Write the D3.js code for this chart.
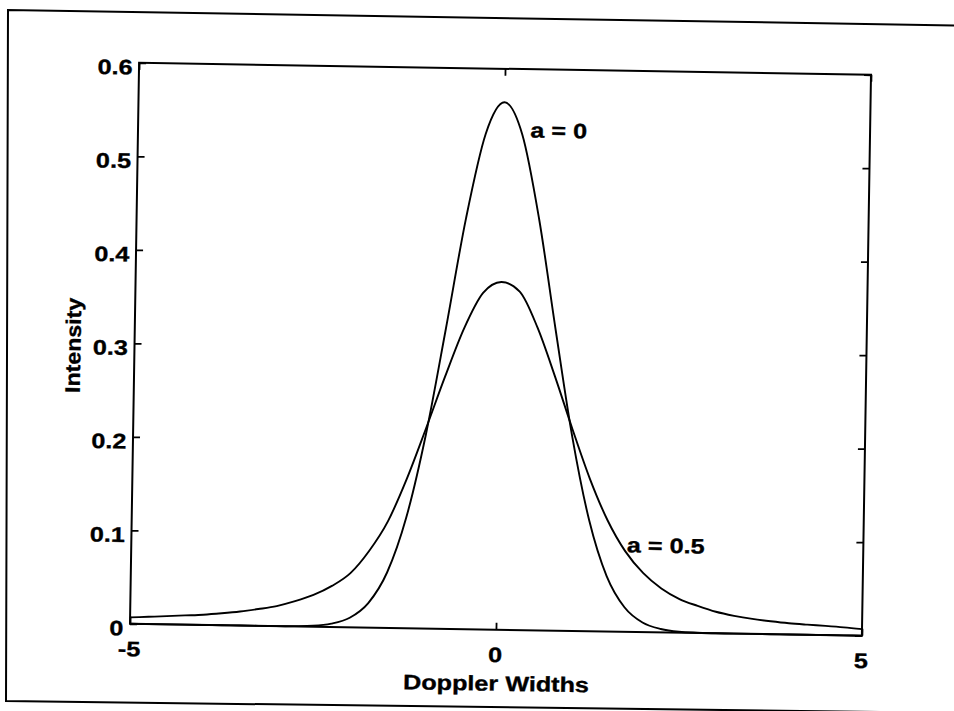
<!DOCTYPE html>
<html>
<head>
<meta charset="utf-8">
<script src="https://cdn.jsdelivr.net/npm/d3@7"></script>
<style>
  html, body { margin: 0; padding: 0; background: #fff; }
  svg { display: block; }
  text { font-family: "Liberation Sans", Arial, sans-serif; font-weight: bold; fill: #000; stroke: #000; stroke-width: 0.35px; }
</style>
</head>
<body>
<svg id="chart" width="954" height="711"></svg>
<script>
// ---- data ----
const dopplerWidths = [-5, -4.75, -4.5, -4.25, -4, -3.75, -3.5, -3.25, -3, -2.75, -2.5, -2.25, -2, -1.75, -1.5, -1.25, -1, -0.75, -0.5, -0.25, 0,
  0.25, 0.5, 0.75, 1, 1.25, 1.5, 1.75, 2, 2.25, 2.5, 2.75, 3, 3.25, 3.5, 3.75, 4, 4.25, 4.5, 4.75, 5];
const intensityA0 = [0, 0, 0, 0, 0, 0, 0, 0, 0, 0.0003, 0.001, 0.0036, 0.0103, 0.0263, 0.0593, 0.1184, 0.2076, 0.3213, 0.4394, 0.5300, 0.5642,
  0.5300, 0.4394, 0.3213, 0.2076, 0.1184, 0.0593, 0.0263, 0.0103, 0.0036, 0.001, 0.0003, 0, 0, 0, 0, 0, 0, 0, 0, 0];
const intensityA05 = [0.0068, 0.0078, 0.0088, 0.0099, 0.011, 0.0128, 0.015, 0.018, 0.0215, 0.027, 0.034, 0.044, 0.058, 0.082, 0.114, 0.160, 0.214, 0.270, 0.322, 0.360, 0.372,
  0.362, 0.324, 0.272, 0.216, 0.163, 0.119, 0.086, 0.063, 0.047, 0.036, 0.029, 0.023, 0.019, 0.016, 0.0138, 0.012, 0.0108, 0.0098, 0.0086, 0.007];
const xTicks = [-5, 0, 5];
const xTickLabels = ["-5", "0", "5"];
const yTicks = [0, 0.1, 0.2, 0.3, 0.4, 0.5, 0.6];
const yTickLabels = ["0", "0.1", "0.2", "0.3", "0.4", "0.5", "0.6"];
const seriesLabels = [
  { text: "a = 0", x: 0.36, y: 0.527 },
  { text: "a = 0.5", x: 1.77, y: 0.085 }
];
const xTitle = "Doppler Widths";
const yTitle = "Intensity";

// ---- layout ----
const svg = d3.select("#chart");
svg.append("rect").attr("width", 954).attr("height", 711).attr("fill", "#fff");

// outer scanned frame
svg.append("path")
  .attr("d", "M 960 25.5 L 8 10 L 6 701 L 960 713")
  .attr("fill", "none").attr("stroke", "#000").attr("stroke-width", 2);

const FS = 21, SX = 1.2;
const g = svg.append("g").attr("transform", "rotate(0.93, 500, 349)");

const pLeft = 134.5, pRight = 866.5, pTop = 68.75, pBottom = 629.75;
const x = d3.scaleLinear().domain([-5, 5]).range([pLeft, pRight]);
const y = d3.scaleLinear().domain([0, 0.6]).range([pBottom, pTop]);

// curves
const line = (vals) => d3.line()
  .x((d, i) => x(dopplerWidths[i]))
  .y(d => y(d))
  .curve(d3.curveMonotoneX)(vals);

[intensityA0, intensityA05].forEach(vals => {
  g.append("path").attr("d", line(vals))
    .attr("fill", "none").attr("stroke", "#000").attr("stroke-width", 1.9);
});

// axes
const axL = g.append("g").attr("transform", `translate(${pLeft},0)`)
  .call(d3.axisLeft(y).tickValues(yTicks).tickSizeInner(-7).tickSizeOuter(0)
    .tickFormat((d, i) => yTickLabels[i]));
const axR = g.append("g").attr("transform", `translate(${pRight},0)`)
  .call(d3.axisRight(y).tickValues(yTicks).tickSizeInner(-7).tickSizeOuter(0).tickFormat(""));
const axB = g.append("g").attr("transform", `translate(0,${pBottom})`)
  .call(d3.axisBottom(x).tickValues(xTicks).tickSizeInner(-7).tickSizeOuter(0)
    .tickFormat((d, i) => xTickLabels[i]));
const axT = g.append("g").attr("transform", `translate(0,${pTop})`)
  .call(d3.axisTop(x).tickValues(xTicks).tickSizeInner(-7).tickSizeOuter(0).tickFormat(""));

[axL, axR, axB, axT].forEach(a => {
  a.select(".domain").remove();
  a.selectAll("line").attr("stroke", "#000").attr("stroke-width", 1.8);
  a.selectAll("text").attr("fill", "#000")
    .style("font-family", "'Liberation Sans', Arial, sans-serif").style("font-weight", "bold");
});
axL.selectAll("text")
  .attr("x", 0).attr("dy", null).attr("y", 0)
  .attr("font-size", FS).attr("text-anchor", "end")
  .attr("transform", `translate(-6.5, ${3.8 + 7.5}) scale(${SX},1)`);
axB.selectAll("text")
  .attr("y", 0).attr("dy", null)
  .attr("font-size", FS)
  .attr("transform", `translate(-1, 32.5) scale(${SX},1)`);

// box
g.append("rect")
  .attr("x", pLeft).attr("y", pTop).attr("width", pRight - pLeft).attr("height", pBottom - pTop)
  .attr("fill", "none").attr("stroke", "#000").attr("stroke-width", 2);

// series labels
seriesLabels.forEach(l => {
  g.append("text")
    .attr("font-size", FS)
    .attr("transform", `translate(${x(l.x)},${y(l.y)}) scale(${SX},1)`)
    .text(l.text);
});

// axis titles
g.append("text")
  .attr("font-size", FS).attr("text-anchor", "middle")
  .attr("transform", `translate(${(pLeft + pRight) / 2 + 1}, ${pBottom + 61}) scale(${SX},1)`)
  .text(xTitle);
g.append("text")
  .attr("font-size", FS).attr("text-anchor", "middle")
  .attr("transform", `translate(80.5, ${(pTop + pBottom) / 2 + 3}) rotate(-90) scale(1.1,1)`)
  .text(yTitle);
</script>
</body>
</html>
